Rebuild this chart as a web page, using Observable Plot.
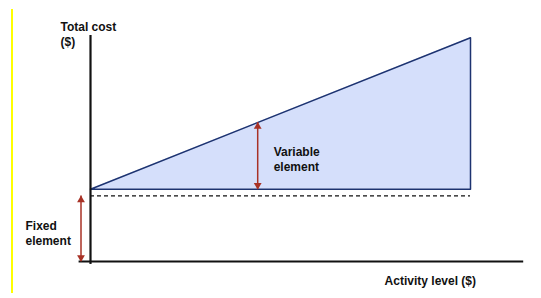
<!DOCTYPE html>
<html>
<head>
<meta charset="utf-8">
<script src="https://cdn.jsdelivr.net/npm/d3@7"></script>
<script src="https://cdn.jsdelivr.net/npm/@observablehq/plot@0.6"></script>
<style>
  body { margin: 0; background: #fff; }
  #wrap { position: relative; width: 541px; height: 298px; }
  #bar { position: absolute; left: 11px; top: 9px; width: 0; height: 284px; border-left: 2px solid #ffff00; }
</style>
</head>
<body>
<div id="wrap"><div id="bar"></div></div>
<script>
// Activity level (x) and total cost (y), in arbitrary $ units
const activity = [0, 100];
const fixedCost = 29;            // level of the dashed fixed-cost line
const triangleBase = 32;         // cost at zero activity (base of variable area)
const totalCost = [32, 99];      // total cost line at activity 0 and 100
const xAxisExtent = [-3, 114];
const yAxisExtent = [-1.3, 100];
const variableArrowAt = 44;      // activity where variable arrow is drawn
const fixedArrowAt = -2.5;

const labels = [
  {text: "Total cost\n($)", x: -7.9, y: 106.9},
  {text: "Activity level ($)", x: 77.4, y: -5.5},
  {text: "Variable\nelement", x: 48.2, y: 51.5},
  {text: "Fixed\nelement", x: -17.1, y: 18.8}
];

const area = [
  {x: activity[0], y1: triangleBase, y2: totalCost[0]},
  {x: activity[1], y1: triangleBase, y2: totalCost[1]}
];
const varTop = totalCost[0] + (totalCost[1] - totalCost[0]) * variableArrowAt / activity[1];
const arrows = [
  {x: variableArrowAt, y1: triangleBase, y2: varTop},
  {x: fixedArrowAt, y1: 0, y2: fixedCost}
];
const red = "#a83226";
const navy = "#1d3370";

const chart = Plot.plot({
  width: 541,
  height: 298,
  margin: 0,
  x: {type: "linear", domain: [0, 100], range: [90, 470], axis: null},
  y: {type: "linear", domain: [0, 100], range: [261, 35], axis: null},
  style: {fontFamily: "Liberation Sans, Arial, sans-serif", background: "transparent"},
  marks: [
    Plot.areaY(area, {x: "x", y1: "y1", y2: "y2", fill: "#d5dffb"}),
    Plot.line([{x: activity[0], y: totalCost[0]}, {x: activity[1], y: totalCost[1]}, {x: activity[1], y: triangleBase}, {x: activity[0], y: triangleBase}],
      {x: "x", y: "y", stroke: navy, strokeWidth: 1.5}),
    Plot.ruleY([fixedCost], {x1: 0, x2: activity[1], stroke: "#111", strokeWidth: 1.2, strokeDasharray: "4,3"}),
    Plot.ruleX([0], {y1: yAxisExtent[0], y2: yAxisExtent[1], stroke: "#111", strokeWidth: 2.2}),
    Plot.ruleY([0], {x1: xAxisExtent[0], x2: xAxisExtent[1], stroke: "#111", strokeWidth: 2.2}),
    Plot.ruleX(arrows, {x: "x", y1: "y1", y2: "y2", stroke: red, strokeWidth: 1.5}),
    Plot.dot(arrows, {x: "x", y: "y2", symbol: "triangle", r: 2.9, fill: red, stroke: "none", dy: 4}),
    Plot.dot(arrows, {x: "x", y: "y1", symbol: "triangle", r: 2.9, fill: red, stroke: "none", rotate: 180, dy: -4}),
    Plot.text(labels, {x: "x", y: "y", text: "text", textAnchor: "start", lineAnchor: "top",
      fontSize: 12, fontWeight: "bold", fill: "#111", lineHeight: 1.25})
  ]
});
document.getElementById("wrap").appendChild(chart);
chart.style.position = "absolute";
chart.style.left = "0";
chart.style.top = "0";
</script>
</body>
</html>
